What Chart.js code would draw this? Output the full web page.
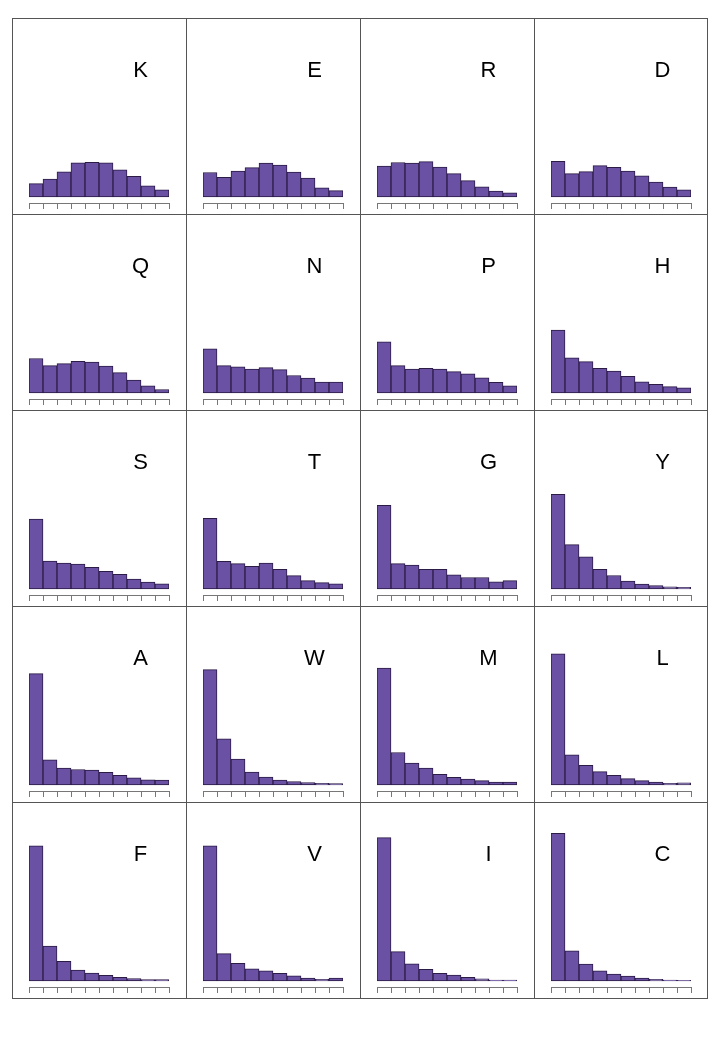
<!DOCTYPE html>
<html>
<head>
<meta charset="utf-8">
<script src="https://cdn.jsdelivr.net/npm/chart.js@4.4.0/dist/chart.umd.min.js"></script>
<style>
  html, body { margin: 0; padding: 0; background: #ffffff; }
  body { width: 720px; height: 1040px; position: relative; overflow: hidden; }
  #grid { position: absolute; left: 12px; top: 18px; width: 696px; height: 981px;
          border-right: 1px solid #555; border-bottom: 1px solid #555; box-sizing: border-box; }
  .cell { position: absolute; width: 174px; height: 196px; border-left: 1px solid #555;
          border-top: 1px solid #555; box-sizing: border-box; }
  .cell canvas { position: absolute; left: -1px; top: -1px; }
</style>
</head>
<body>
<div id="grid"></div>
<script>
// Bins (10 equal-width bins per panel)
const bins = ['1','2','3','4','5','6','7','8','9','10'];
// Panel names in reading order
const panels = ['K','E','R','D','Q','N','P','H','S','T','G','Y','A','W','M','L','F','V','I','C'];
// Share of observations per bin (percent)
const K = [5.9, 8.0, 11.2, 15.2, 15.5, 15.2, 12.1, 9.2, 5.0, 3.1];
const E = [10.9, 8.8, 11.6, 13.1, 15.1, 14.2, 11.1, 8.4, 4.1, 2.8];
const R = [13.8, 15.4, 15.1, 15.8, 13.3, 10.4, 7.3, 4.5, 2.6, 1.8];
const D = [15.9, 10.4, 11.3, 14.0, 13.2, 11.6, 9.4, 6.6, 4.4, 3.2];
const Q = [15.4, 12.2, 13.1, 14.1, 13.8, 12.0, 9.1, 5.7, 3.1, 1.5];
const N = [19.7, 12.2, 11.7, 10.7, 11.3, 10.4, 7.8, 6.6, 4.8, 4.8];
const P = [22.9, 12.2, 10.6, 11.0, 10.7, 9.5, 8.5, 6.7, 4.7, 3.2];
const H = [28.1, 15.7, 14.0, 11.0, 9.8, 7.4, 5.0, 3.8, 2.8, 2.3];
const S = [31.3, 12.5, 11.6, 11.1, 9.7, 7.9, 6.5, 4.4, 3.0, 2.3];
const T = [31.6, 12.3, 11.3, 10.1, 11.5, 8.7, 5.9, 3.7, 2.8, 2.3];
const G = [37.4, 11.3, 10.6, 8.8, 8.7, 6.3, 5.1, 5.1, 3.1, 3.7];
const Y = [42.3, 19.8, 14.4, 8.8, 6.0, 3.5, 2.2, 1.5, 0.9, 0.7];
const A = [49.8, 11.2, 7.5, 6.9, 6.6, 5.6, 4.3, 3.1, 2.3, 2.1];
const W = [51.6, 20.6, 11.6, 5.7, 3.5, 2.1, 1.5, 1.0, 0.7, 0.6];
const M = [52.3, 14.5, 9.8, 7.5, 4.7, 3.4, 2.6, 1.9, 1.2, 1.3];
const L = [58.7, 13.5, 8.8, 5.9, 4.3, 2.8, 1.9, 1.3, 0.7, 0.9];
const F = [60.4, 15.6, 8.7, 4.8, 3.5, 2.5, 1.6, 1.0, 0.6, 0.6];
const V = [60.4, 12.2, 7.9, 5.4, 4.5, 3.4, 2.3, 1.3, 0.7, 1.2];
const I = [64.1, 13.1, 7.6, 5.2, 3.4, 2.6, 1.6, 0.9, 0.4, 0.4];
const C = [66.0, 13.5, 7.5, 4.5, 3.0, 2.2, 1.2, 0.7, 0.4, 0.3];

const seriesByName = {K,E,R,D,Q,N,P,H,S,T,G,Y,A,W,M,L,F,V,I,C};

const grid = document.getElementById('grid');
const labelPlugin = {
  id: 'panelLabel',
  afterDraw(chart, args, opts) {
    const ctx = chart.ctx;
    ctx.save();
    ctx.font = '22px "Liberation Sans", Arial, sans-serif';
    ctx.fillStyle = '#000';
    ctx.textAlign = 'center';
    ctx.textBaseline = 'middle';
    ctx.fillText(opts.text, chart.chartArea.left + 111.5, 53);
    ctx.restore();
  }
};

panels.forEach((name, idx) => {
  const col = idx % 4, row = Math.floor(idx / 4);
  const cell = document.createElement('div');
  cell.className = 'cell';
  cell.style.left = (col * 174) + 'px';
  cell.style.top = (row * 196) + 'px';
  const cv = document.createElement('canvas');
  cv.width = 175; cv.height = 197;
  cv.style.width = '175px'; cv.style.height = '197px';
  cell.appendChild(cv);
  grid.appendChild(cell);

  new Chart(cv.getContext('2d'), {
    type: 'bar',
    data: {
      labels: bins,
      datasets: [{
        data: seriesByName[name],
        backgroundColor: '#6a51a3',
        borderColor: '#2b1b45',
        borderWidth: 1,
        barPercentage: 1.0,
        categoryPercentage: 1.0,
        borderSkipped: false
      }]
    },
    options: {
      responsive: false,
      animation: false,
      devicePixelRatio: 1,
      layout: { padding: { left: 17, right: 18, top: 10, bottom: 6 } },
      plugins: {
        legend: { display: false },
        tooltip: { enabled: false },
        panelLabel: { text: name }
      },
      scales: {
        x: {
          type: 'category',
          offset: true,
          grid: { offset: true, drawOnChartArea: false, drawTicks: true, tickLength: 6, color: '#777', lineWidth: 1 },
          border: { display: true, color: '#777', width: 1 },
          ticks: { display: false }
        },
        y: {
          display: false,
          min: -2.74,
          max: 75.6
        }
      }
    },
    plugins: [labelPlugin]
  });
});
</script>
</body>
</html>
